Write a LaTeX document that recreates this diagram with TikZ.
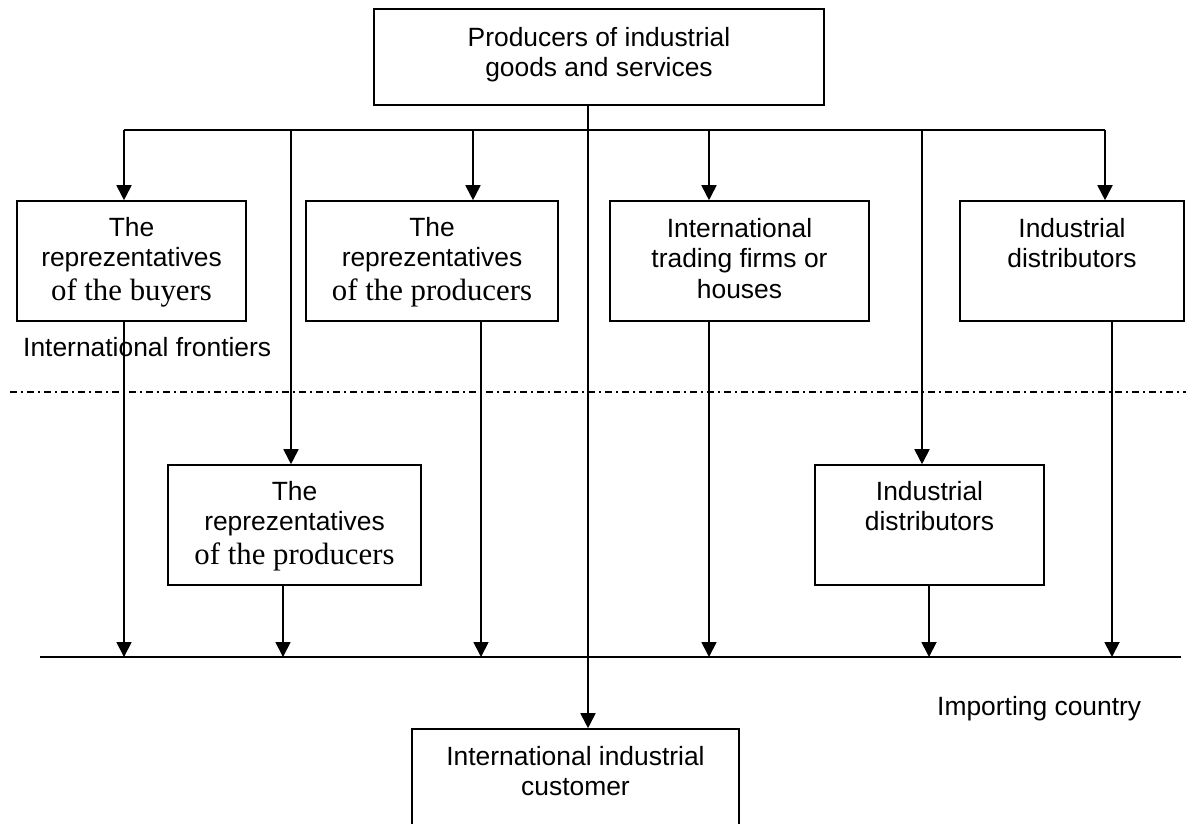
\documentclass[tikz,border=0pt]{standalone}
\usepackage{fontspec}
\setmainfont{Liberation Sans}
\newfontfamily\tmsfont{Liberation Serif}
\usetikzlibrary{arrows.meta}
\newcommand{\tms}[1]{{\tmsfont\fontsize{30.8}{34}\selectfont #1}}
\begin{document}
\begin{tikzpicture}[x=1pt,y=-1pt,
  box/.style={draw, line width=1.6pt, inner sep=0pt},
  lbl/.style={inner sep=0pt, align=center, anchor=north, font=\fontsize{26.4}{30.5}\selectfont},
  free/.style={inner sep=0pt, anchor=north west, font=\fontsize{26.4}{30.5}\selectfont},
  arr/.style={line width=1.8pt, -{Triangle[length=15pt,width=15pt]}},
  ln/.style={line width=1.8pt},
  frontier/.style={line width=1.3pt, dash pattern=on 7pt off 4pt on 2pt off 4pt},
]
\clip (0,0) rectangle (1186,823);
% boxes
\node[box, minimum width=450pt, minimum height=96pt] (top) at (599,57) {};
\node[box, minimum width=229pt, minimum height=120pt] (b1) at (131.5,261) {};
\node[box, minimum width=252pt, minimum height=120pt] (b2) at (432,261) {};
\node[box, minimum width=259pt, minimum height=120pt] (b3) at (739.5,261) {};
\node[box, minimum width=224pt, minimum height=120pt] (b4) at (1072,261) {};
\node[box, minimum width=253pt, minimum height=120pt] (b5) at (294.5,525) {};
\node[box, minimum width=229pt, minimum height=120pt] (b6) at (929.5,525) {};
\node[box, minimum width=327pt, minimum height=151pt] (cust) at (575.5,804.5) {};
% texts
\node[lbl] (ttop) at (599,27) {Producers of industrial\\goods and services};
\node[lbl] (tb1) at (131.5,217) {The\\reprezentatives\\[3pt]\tms{of the buyers}};
\node[lbl] (tb2) at (432,217) {The\\reprezentatives\\[3pt]\tms{of the producers}};
\node[lbl] (tb3) at (739.5,218) {International\\trading firms or\\houses};
\node[lbl] (tb4) at (1072,218) {Industrial\\distributors};
\node[lbl] (tb5) at (294.5,481) {The\\reprezentatives\\[3pt]\tms{of the producers}};
\node[lbl] (tb6) at (929.5,481) {Industrial\\distributors};
\node[lbl] (tcust) at (575.5,746) {International industrial\\customer};
\node[free] (fr) at (23,337) {International frontiers};
\node[free] (imp) at (937,696) {Importing country};
% frontier line
\coordinate (fL) at (10,392);
\coordinate (fR) at (1186,392);
\draw[frontier] (fL) -- (fR);
% bus lines
\coordinate (xc) at (588,0);
\coordinate (busL) at (124,130);
\coordinate (busR) at (1105,130);
\coordinate (d2) at (291,130);
\coordinate (d3) at (473,130);
\coordinate (d4) at (709,130);
\coordinate (d5) at (922,130);
\coordinate (gL) at (40,657);
\coordinate (gR) at (1181,657);
\draw[ln] (busL) -- (busR);
\draw[ln] (gL) -- (gR);
\draw[arr] (top.south -| xc) -- (cust.north -| xc);
\draw[arr] (busL) -- (b1.north -| busL);
\draw[arr] (d2) -- (b5.north -| d2);
\draw[arr] (d3) -- (b2.north -| d3);
\draw[arr] (d4) -- (b3.north -| d4);
\draw[arr] (d5) -- (b6.north -| d5);
\draw[arr] (busR) -- (b4.north -| busR);
% drops to importing-country line
\coordinate (u1) at (124,0);
\coordinate (u2) at (283,0);
\coordinate (u3) at (481,0);
\coordinate (u4) at (709,0);
\coordinate (u5) at (929,0);
\coordinate (u6) at (1112,0);
\draw[arr] (b1.south -| u1) -- (gL -| u1);
\draw[arr] (b5.south -| u2) -- (gL -| u2);
\draw[arr] (b2.south -| u3) -- (gL -| u3);
\draw[arr] (b3.south -| u4) -- (gL -| u4);
\draw[arr] (b6.south -| u5) -- (gL -| u5);
\draw[arr] (b4.south -| u6) -- (gL -| u6);
\end{tikzpicture}
\end{document}
